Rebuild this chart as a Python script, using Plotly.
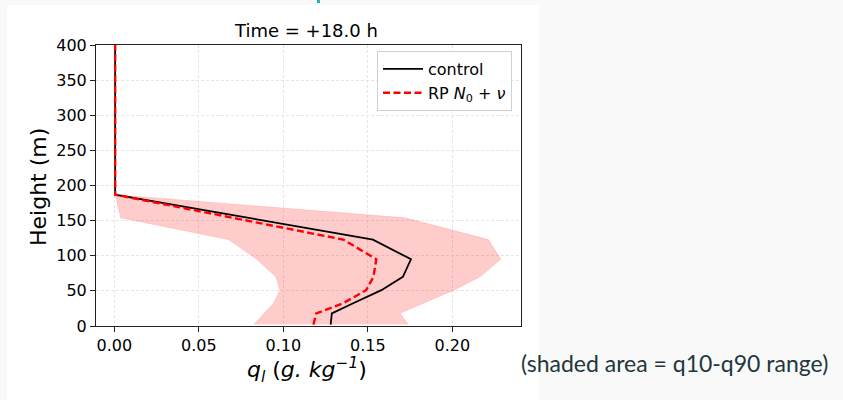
import plotly.graph_objects as go

# ---- data ----
heights = [2, 18, 32, 51, 70, 95, 123, 154, 187, 400]
control = [0.1280, 0.1287, 0.1410, 0.1580, 0.1707, 0.1755, 0.1530, 0.0800, 0.0005, 0.0005]
rp_n0_nu = [0.1178, 0.1195, 0.1350, 0.1490, 0.1533, 0.1550, 0.1355, 0.0710, 0.0005, 0.0005]
q10 = [0.0825, 0.0885, 0.0941, 0.0980, 0.0955, 0.0843, 0.0675, 0.0038, 0.0005, 0.0005]
q90 = [0.1740, 0.1690, 0.1826, 0.2008, 0.2164, 0.2286, 0.2213, 0.1720, 0.0005, 0.0005]

x_ticks = [0.00, 0.05, 0.10, 0.15, 0.20]
y_ticks = [0, 50, 100, 150, 200, 250, 300, 350, 400]

# ---- layout geometry (pixels) ----
W, H = 843, 400
L, R, T, B = 96, 521, 45, 326


def px(x):
    return (x - L) / (R - L)


def py(y):
    return (B - y) / (B - T)


FONT = "DejaVu Sans"

fig = go.Figure()

# shaded q10-q90 band
fig.add_trace(go.Scatter(
    x=q10 + q90[::-1],
    y=heights + heights[::-1],
    fill="toself",
    fillcolor="rgba(255,0,0,0.2)",
    line=dict(color="rgba(255,0,0,0.12)", width=1),
    mode="lines",
    hoverinfo="skip",
    showlegend=False,
))

fig.add_trace(go.Scatter(
    x=control, y=heights, mode="lines", name="control",
    line=dict(color="black", width=1.8),
))
fig.add_trace(go.Scatter(
    x=rp_n0_nu, y=heights, mode="lines",
    name="RP <i>N</i><sub>0</sub> + <i>ν</i>",
    line=dict(color="#ff0000", width=2.4, dash="7px,3.5px"),
))

axis_common = dict(
    showline=True, linecolor="#222222", linewidth=1, mirror=True,
    ticks="outside", ticklen=5, tickcolor="#222222", tickwidth=1,
    showgrid=True, gridcolor="#e6e6e6", gridwidth=1, griddash="3px,2px",
    zeroline=False,
    tickfont=dict(family=FONT, size=16, color="black"),
)

fig.update_xaxes(
    range=[-0.01083, 0.2406], tickvals=x_ticks, tickformat=".2f", **axis_common,
)
fig.update_yaxes(
    range=[0, 400], tickvals=y_ticks, **axis_common,
)

shapes = [
    # white figure card on the grey slide
    dict(type="rect", xref="paper", yref="paper",
         x0=px(7), x1=px(539), y0=py(400), y1=py(5),
         fillcolor="white", line=dict(width=0), layer="below"),
    # small cyan mark at top of slide
    dict(type="rect", xref="paper", yref="paper",
         x0=px(317), x1=px(320), y0=py(3), y1=py(0),
         fillcolor="#1fb5b5", line=dict(width=0), layer="above"),
]

annotations = [
    dict(text="Time = +18.0 h", xref="paper", yref="paper",
         x=px(306), y=py(31), xanchor="center", yanchor="middle",
         showarrow=False, font=dict(family=FONT, size=18, color="black")),
    dict(text="Height (m)", xref="paper", yref="paper",
         x=px(39), y=py(187), xanchor="center", yanchor="middle", textangle=-90,
         showarrow=False, font=dict(family=FONT, size=22, color="black")),
    dict(text="<i>q<sub>l</sub></i> (<i>g. kg<sup>−1</sup></i>)", xref="paper", yref="paper",
         x=px(307), y=py(370), xanchor="center", yanchor="middle",
         showarrow=False, font=dict(family=FONT, size=22, color="black")),
    dict(text="(shaded area = q10-q90 range)", xref="paper", yref="paper",
         x=px(519), y=py(363), xanchor="left", yanchor="middle",
         showarrow=False, font=dict(family="Lato", size=23, color="#23373b")),
]

fig.update_layout(
    width=W, height=H, autosize=False,
    margin=dict(l=L, r=W - R, t=T, b=H - B, pad=0),
    paper_bgcolor="#f9f9f9",
    plot_bgcolor="white",
    font=dict(family=FONT, size=16, color="black"),
    shapes=shapes,
    annotations=annotations,
    legend=dict(
        x=px(512), y=py(51), xanchor="right", yanchor="top",
        bgcolor="rgba(255,255,255,0.85)", bordercolor="#d0d0d0", borderwidth=1,
        font=dict(family=FONT, size=16, color="black"),
        itemwidth=40,
    ),
)

fig.write_html(
    "out.html",
    config={"displayModeBar": False},
    post_script="document.body.style.margin='0';document.body.style.padding='0';",
)
